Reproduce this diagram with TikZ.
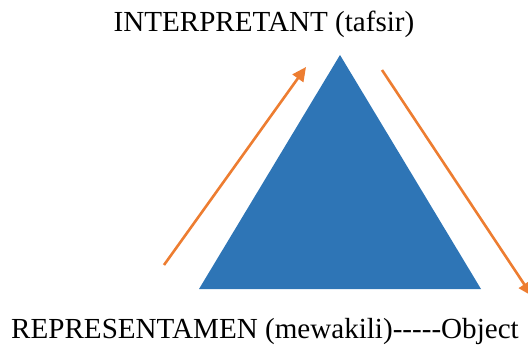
\documentclass[tikz,border=0pt]{standalone}
\usepackage{fontspec}
\setmainfont{Liberation Serif}[Ligatures=TeXOff]
\usepackage{xcolor}
\usepackage{tikz}
\usetikzlibrary{arrows.meta}

\definecolor{signblue}{HTML}{2E75B6}
\definecolor{signorange}{HTML}{ED7D31}

\begin{document}
\begin{tikzpicture}[x=1pt,y=-1pt,>={Triangle[length=14pt,width=13pt]},
  flow/.style={signorange,line width=2.6pt,->},
  label/.style={anchor=base,inner sep=0pt,font=\fontsize{29.1}{35}\selectfont}]
  \useasboundingbox (0,0) rectangle (528,345);
  % the sign triangle
  \coordinate (apex) at (340,55);
  \coordinate (baseL) at (199,289);
  \coordinate (baseR) at (481,289);
  \fill[signblue] (baseL)--(apex)--(baseR)--cycle;
  % arrows along the sides
  \coordinate (upfrom) at (164,265);
  \coordinate (upto) at (306,67);
  \coordinate (downfrom) at (382,70);
  \coordinate (downto) at (532,296);
  \draw[flow] (upfrom)--(upto);
  \draw[flow] (downfrom)--(downto);
  \node[label] (interp) at (264,32) {INTERPRETANT (tafsir)};
  \node[label] (repr) at (265,338) {REPRESENTAMEN (mewakili)-----Object};
\end{tikzpicture}
\end{document}
